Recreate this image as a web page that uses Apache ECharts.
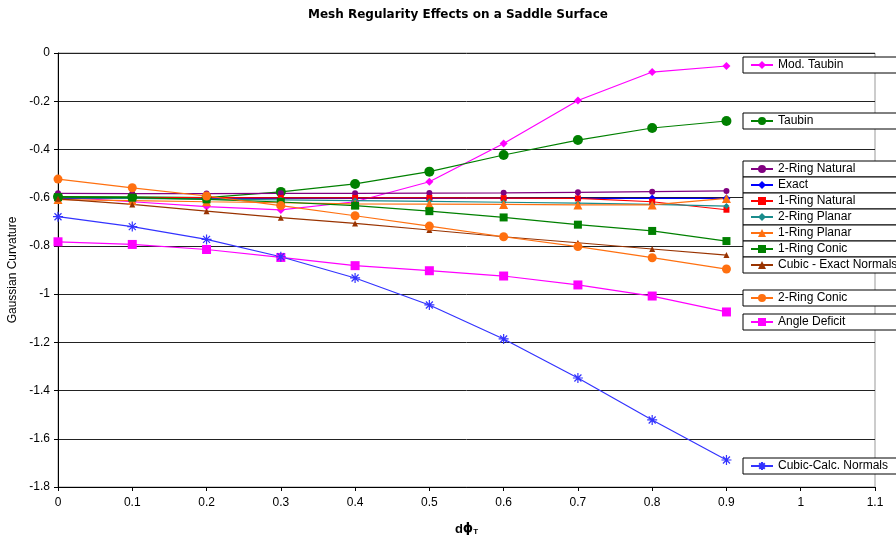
<!DOCTYPE html>
<html>
<head>
<meta charset="utf-8">
<script src="https://cdn.jsdelivr.net/npm/echarts@6/dist/echarts.min.js"></script>
<style>
  html, body { margin: 0; padding: 0; background: #fff; }
  #chart { width: 896px; height: 540px; }
</style>
</head>
<body>
<div id="chart"></div>
<script>
// x values (d phi T)
const xValues = [0, 0.1, 0.2, 0.3, 0.4, 0.5, 0.6, 0.7, 0.8, 0.9];

// gaussian curvature per method
const modTaubin = [-0.597, -0.617, -0.637, -0.651, -0.617, -0.534, -0.375, -0.197, -0.079, -0.054];
const taubin = [-0.596, -0.597, -0.600, -0.576, -0.543, -0.492, -0.423, -0.361, -0.311, -0.282];
const ringNatural2 = [-0.582, -0.583, -0.583, -0.582, -0.582, -0.581, -0.580, -0.578, -0.575, -0.572];
const exact = [-0.603, -0.603, -0.603, -0.603, -0.603, -0.603, -0.603, -0.603, -0.603, -0.603];
const ringNatural1 = [-0.600, -0.600, -0.600, -0.601, -0.601, -0.601, -0.602, -0.603, -0.617, -0.650];
const ringPlanar2 = [-0.600, -0.603, -0.606, -0.609, -0.612, -0.615, -0.619, -0.623, -0.628, -0.635];
const ringPlanar1 = [-0.608, -0.612, -0.617, -0.621, -0.626, -0.627, -0.628, -0.630, -0.630, -0.603];
const ringConic1 = [-0.598, -0.600, -0.607, -0.618, -0.633, -0.656, -0.682, -0.712, -0.738, -0.780];
const cubicExact = [-0.605, -0.628, -0.656, -0.683, -0.707, -0.734, -0.762, -0.787, -0.813, -0.838];
const ringConic2 = [-0.523, -0.559, -0.593, -0.633, -0.675, -0.718, -0.762, -0.803, -0.849, -0.896];
const angleDeficit = [-0.783, -0.794, -0.815, -0.848, -0.882, -0.903, -0.925, -0.962, -1.008, -1.074];
const cubicCalc = [-0.679, -0.720, -0.773, -0.845, -0.933, -1.045, -1.186, -1.348, -1.522, -1.688];

const asterisk = 'path://M0,5L10,5M5,0L5,10M1.5,1.5L8.5,8.5M8.5,1.5L1.5,8.5';

const seriesDefs = [
    {name: "Mod. Taubin", data: modTaubin, color: "#ff00ff", symbol: "diamond", size: 8, top: 57},
    {name: "Taubin", data: taubin, color: "#008000", symbol: "circle", size: 10, top: 113},
    {name: "2-Ring Natural", data: ringNatural2, color: "#800080", symbol: "circle", size: 6, top: 161},
    {name: "Exact", data: exact, color: "#0000ff", symbol: "diamond", size: 8, top: 177},
    {name: "1-Ring Natural", data: ringNatural1, color: "#ff0000", symbol: "rect", size: 6, top: 193},
    {name: "2-Ring Planar", data: ringPlanar2, color: "#1a8c8c", symbol: "diamond", size: 6, top: 209},
    {name: "1-Ring Planar", data: ringPlanar1, color: "#ff7010", symbol: "triangle", size: 9, top: 225},
    {name: "1-Ring Conic", data: ringConic1, color: "#008000", symbol: "rect", size: 8, top: 241},
    {name: "Cubic - Exact Normals", data: cubicExact, color: "#993300", symbol: "triangle", size: 6, top: 257},
    {name: "2-Ring Conic", data: ringConic2, color: "#ff7010", symbol: "circle", size: 9, top: 290},
    {name: "Angle Deficit", data: angleDeficit, color: "#ff00ff", symbol: "rect", size: 9, top: 314},
    {name: "Cubic-Calc. Normals", data: cubicCalc, color: "#3333ff", symbol: asterisk, size: 10, top: 458},
];

const font = "'Liberation Sans', Arial, sans-serif";

const series = seriesDefs.map((d) => ({
    name: d.name,
    type: "line",
    data: xValues.map((x, i) => [x, d.data[i]]),
    symbol: d.symbol,
    symbolSize: d.size,
    showAllSymbol: true,
    lineStyle: {color: d.color, width: 1.2},
    itemStyle: {color: d.color, borderColor: d.color, borderWidth: d.symbol === asterisk ? 1.2 : 0},
    emphasis: {disabled: true},
    animation: false,
}));

// one boxed legend per series, like the excel callouts
const legends = seriesDefs.map((d) => ({
    data: [d.name],
    left: 743,
    top: d.top,
    orient: "vertical",
    itemWidth: 22,
    itemHeight: 10,
    padding: [1, 120, 1, 7],
    borderColor: "#000",
    borderWidth: 1,
    borderRadius: 0,
    backgroundColor: "#fff",
    selectedMode: false,
    textStyle: {fontFamily: font, fontSize: 12, color: "#000", lineHeight: 14},
}));

const chart = echarts.init(document.getElementById("chart"));
chart.setOption({
    animation: false,
    backgroundColor: "#fff",
    title: {
        text: "Mesh Regularity Effects on a Saddle Surface",
        left: 303,
        top: 4,
        textStyle: {fontFamily: "'DejaVu Sans', sans-serif", fontSize: 12, fontWeight: "bold", color: "#000"},
    },
    grid: {
        left: 58, right: 21, top: 53, bottom: 53,
        outerBoundsMode: "none",
        containLabel: false,
        show: true, borderColor: "#999", borderWidth: 1,
    },
    legend: legends,
    xAxis: {
        type: "value",
        min: 0, max: 1.1, interval: 0.1,
        name: "{d|d}{p|ϕ}{t|T}",
        nameLocation: "middle",
        nameGap: 35,
        nameTextStyle: {
            rich: {
                d: {fontFamily: font, fontSize: 13, fontWeight: "bold", color: "#000"},
                p: {fontFamily: "'DejaVu Sans', sans-serif", fontSize: 13, fontWeight: "bold", color: "#000"},
                t: {fontFamily: font, fontSize: 8, fontWeight: "bold", color: "#000", verticalAlign: "bottom", padding: [6, 0, 0, 0]},
            },
        },
        axisLine: {onZero: false, lineStyle: {color: "#000", width: 1}},
        axisTick: {show: true, length: 4, lineStyle: {color: "#000"}},
        axisLabel: {fontFamily: font, fontSize: 12, color: "#000", margin: 10},
        splitLine: {show: false},
    },
    yAxis: {
        type: "value",
        min: -1.8, max: 0, interval: 0.2,
        name: "Gaussian Curvature",
        nameLocation: "middle",
        nameGap: 36,
        nameTextStyle: {fontFamily: font, fontSize: 12, color: "#000"},
        axisLine: {show: true, onZero: false, lineStyle: {color: "#000", width: 1}},
        axisTick: {show: true, length: 4, lineStyle: {color: "#000"}},
        axisLabel: {fontFamily: font, fontSize: 12, color: "#000", margin: 8},
        splitLine: {show: true, lineStyle: {color: "#222", width: 1}},
    },
    series: series,
});
</script>
</body>
</html>
